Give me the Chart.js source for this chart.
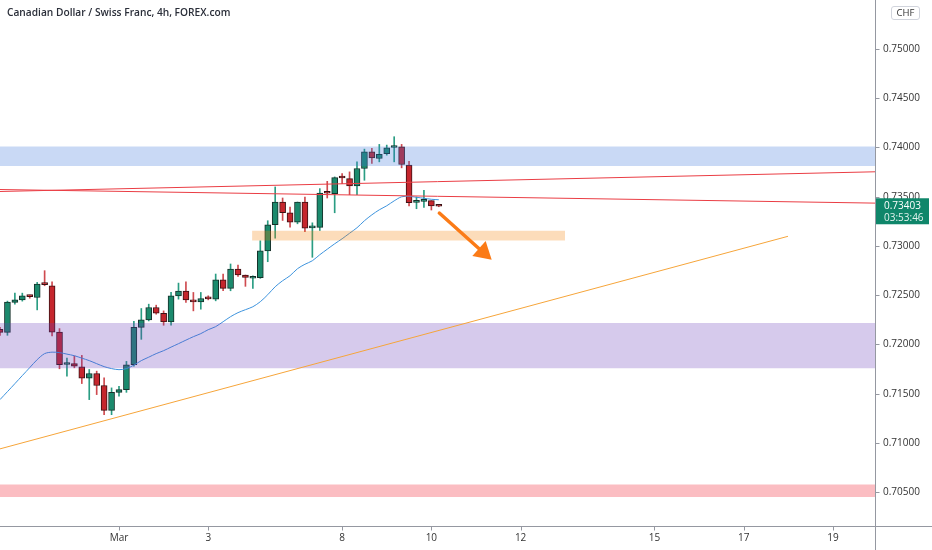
<!DOCTYPE html>
<html><head><meta charset="utf-8">
<script src="https://cdn.jsdelivr.net/npm/chart.js@4.4.1/dist/chart.umd.min.js"></script>
<style>
html,body{margin:0;padding:0;background:#fff;}
#wrap{position:relative;width:932px;height:550px;overflow:hidden;}
#title{position:absolute;left:7px;top:5px;font:600 10.2px 'Open Sans';color:#2a2e39;white-space:nowrap;}
#chf{position:absolute;left:891px;top:6px;width:27px;height:12px;border:1px solid #d1d4dc;border-radius:3px;font:9.5px 'Open Sans';color:#333;text-align:center;line-height:12px;}
</style></head><body>
<div id="wrap"><canvas id="c" width="932" height="550"></canvas>
<div id="title">Canadian Dollar / Swiss Franc, 4h, FOREX.com</div><div id="chf">CHF</div></div>
<script>
// candle index (4h bars, 0 = first bar of 1 March)
const candleIdx = [-16,-15,-14,-13,-12,-11,-10,-9,-8,-7,-6,-5,-4,-3,-2,-1,0,1,2,3,4,5,6,7,8,9,10,11,12,13,14,15,16,17,18,19,20,21,22,23,24,25,26,27,28,29,30,31,32,33,34,35,36,37,38,39,40,41,42,43];
const opens  = [0.72154,0.72123,0.72426,0.72453,0.72491,0.72477,0.72613,0.72596,0.72126,0.71797,0.71807,0.71774,0.71657,0.71705,0.71583,0.71331,0.71514,0.71542,0.71794,0.72174,0.72249,0.72375,0.72317,0.72228,0.72494,0.72542,0.72453,0.72432,0.72467,0.72460,0.72657,0.72569,0.72766,0.72705,0.72672,0.72677,0.72950,0.73215,0.73446,0.73337,0.73242,0.73446,0.73184,0.73189,0.73541,0.73531,0.73694,0.73684,0.73610,0.73786,0.73956,0.73888,0.73936,0.74000,0.74007,0.73820,0.73442,0.73453,0.73460,0.73406];
const highs  = [0.72174,0.72440,0.72521,0.72521,0.72501,0.72630,0.72749,0.72636,0.72161,0.71861,0.71882,0.71889,0.71746,0.71729,0.71661,0.71559,0.71576,0.71828,0.72236,0.72365,0.72409,0.72399,0.72341,0.72528,0.72623,0.72636,0.72528,0.72528,0.72494,0.72715,0.72715,0.72817,0.72807,0.72705,0.72698,0.73052,0.73256,0.73599,0.73487,0.73395,0.73446,0.73497,0.73235,0.73582,0.73656,0.73701,0.73735,0.73752,0.73854,0.73983,0.73990,0.74031,0.74024,0.74109,0.74031,0.73860,0.73497,0.73565,0.73460,0.73410];
const lows   = [0.72093,0.72093,0.72409,0.72440,0.72470,0.72351,0.72596,0.72086,0.71753,0.71678,0.71763,0.71603,0.71440,0.71491,0.71287,0.71287,0.71474,0.71514,0.71780,0.72052,0.72239,0.72307,0.72195,0.72195,0.72460,0.72426,0.72341,0.72358,0.72453,0.72443,0.72545,0.72545,0.72692,0.72590,0.72569,0.72671,0.72840,0.73079,0.73259,0.73191,0.73225,0.73146,0.72885,0.73157,0.73487,0.73337,0.73633,0.73521,0.73521,0.73667,0.73837,0.73854,0.73922,0.73854,0.73793,0.73406,0.73378,0.73391,0.73365,0.73398];
const closes = [0.72123,0.72429,0.72453,0.72494,0.72486,0.72613,0.72608,0.72126,0.71794,0.71802,0.71780,0.71657,0.71705,0.71583,0.71331,0.71514,0.71542,0.71794,0.72174,0.72249,0.72375,0.72317,0.72228,0.72494,0.72542,0.72453,0.72432,0.72467,0.72463,0.72657,0.72569,0.72766,0.72705,0.72681,0.72676,0.72950,0.73215,0.73446,0.73337,0.73242,0.73446,0.73181,0.73189,0.73538,0.73535,0.73694,0.73690,0.73610,0.73786,0.73956,0.73895,0.73929,0.73997,0.74005,0.73827,0.73439,0.73447,0.73458,0.73406,0.73403];
// moving average (blue)
const emaValues = [0.71440,0.71521,0.71602,0.71684,0.71765,0.71846,0.71907,0.71922,0.71917,0.71902,0.71886,0.71861,0.71836,0.71805,0.71775,0.71755,0.71744,0.71755,0.71790,0.71836,0.71871,0.71907,0.71937,0.71973,0.72008,0.72044,0.72079,0.72110,0.72150,0.72181,0.72231,0.72282,0.72323,0.72353,0.72383,0.72434,0.72505,0.72586,0.72647,0.72698,0.72769,0.72814,0.72850,0.72911,0.72967,0.73022,0.73073,0.73129,0.73185,0.73256,0.73316,0.73367,0.73408,0.73458,0.73499,0.73504,0.73494,0.73484,0.73474,0.73469];
// drawings
const viewRange = [-16, 101.65];
const blueZone = [0.74009, 0.73813];
const purpleZone = [0.72218, 0.71758];
const pinkZone = [0.70578, 0.70451];
const orangeZoneX = [17.9, 59.97];
const orangeZone = [0.73154, 0.73056];
const redLineUp = [0.73553, 0.73753];
const redLineDown = [0.73573, 0.73435];
const trendX = [-16, 89.95];
const trendY = [0.70940, 0.73098];
const arrowFrom = [43.07, 0.73334];
const arrowTo = [50.11, 0.72860];
// axes
const xTickIdx = [0, 12, 30, 42, 54, 72, 84, 96];
const xTickLabels = ['Mar', '3', '8', '10', '12', '15', '17', '19'];
const yTicks = [0.705, 0.71, 0.715, 0.72, 0.725, 0.73, 0.735, 0.74, 0.745, 0.75];
const yRange = [0.70157, 0.75497];
const lastPrice = 0.73403;
const countdown = '03:53:46';

const UP = '#1b8a6d', DOWN = '#c5262d';
const isUp = candleIdx.map((_, k) => closes[k] >= opens[k]);
const wickData = candleIdx.map((x, k) => ({x, y: [lows[k], highs[k]]}));
const bodyData = candleIdx.map((x, k) => ({x, y: [Math.min(opens[k], closes[k]), Math.max(opens[k], closes[k])]}));
const emaData = candleIdx.map((x, k) => ({x, y: emaValues[k]}));

function band(vals, xs, color, order) {
  return [
    {type: 'line', data: [{x: xs[0], y: vals[0]}, {x: xs[1], y: vals[0]}], borderWidth: 0, pointRadius: 0, fill: false, order},
    {type: 'line', data: [{x: xs[0], y: vals[1]}, {x: xs[1], y: vals[1]}], borderWidth: 0, pointRadius: 0, fill: '-1', backgroundColor: color, order}
  ];
}
function seg(xs, ys, color, order) {
  return {type: 'line', data: [{x: xs[0], y: ys[0]}, {x: xs[1], y: ys[1]}], borderColor: color, borderWidth: 1, pointRadius: 0, fill: false, order};
}

const tvFont = {family: "'Open Sans'", size: 10};
const AXIS = '#9598a1';

const extras = {
  id: 'extras',
  afterDatasetsDraw(chart) {
    const {ctx, scales: {x, y}} = chart;
    const x1 = x.getPixelForValue(arrowFrom[0]), y1 = y.getPixelForValue(arrowFrom[1]);
    const x2 = x.getPixelForValue(arrowTo[0]), y2 = y.getPixelForValue(arrowTo[1]);
    const a = Math.atan2(y2 - y1, x2 - x1), hl = 17, hw = 10;
    const bx = x2 - hl * Math.cos(a), by = y2 - hl * Math.sin(a);
    ctx.save();
    ctx.strokeStyle = '#fb7b17'; ctx.fillStyle = '#fb7b17';
    ctx.lineWidth = 3.5; ctx.lineCap = 'round';
    ctx.beginPath(); ctx.moveTo(x1, y1); ctx.lineTo(bx + 1, by + 1); ctx.stroke();
    ctx.beginPath(); ctx.moveTo(x2, y2);
    ctx.lineTo(bx + hw * Math.sin(a), by - hw * Math.cos(a));
    ctx.lineTo(bx - hw * Math.sin(a), by + hw * Math.cos(a));
    ctx.closePath(); ctx.fill();
    ctx.restore();
  },
  afterDraw(chart) {
    const {ctx, chartArea: ca, scales: {x, y}} = chart;
    const bot = Math.round(ca.bottom) + 0.5, rgt = Math.round(ca.right) + 0.5;
    ctx.save();
    ctx.strokeStyle = AXIS; ctx.lineWidth = 1;
    ctx.beginPath();
    ctx.moveTo(0, bot); ctx.lineTo(chart.width, bot);
    ctx.moveTo(rgt, 0); ctx.lineTo(rgt, chart.height);
    xTickIdx.forEach(v => { const px = Math.round(x.getPixelForValue(v)) + 0.5; ctx.moveTo(px, bot); ctx.lineTo(px, bot + 4); });
    yTicks.forEach(v => { const py = Math.round(y.getPixelForValue(v)) + 0.5; ctx.moveTo(rgt, py); ctx.lineTo(rgt + 4, py); });
    ctx.stroke();
    const py = y.getPixelForValue(lastPrice);
    const bx = Math.round(ca.right) + 1;
    ctx.fillStyle = '#0f866a';
    ctx.fillRect(bx, py - 8, 929 - bx, 26);
    ctx.fillStyle = '#ffffff';
    ctx.font = "10px 'Open Sans'";
    ctx.textBaseline = 'middle';
    ctx.fillText(lastPrice.toFixed(5), bx + 8, py);
    ctx.fillStyle = '#e2f2ee';
    ctx.fillText(countdown, bx + 8, py + 12);
    ctx.restore();
  }
};

new Chart(document.getElementById('c'), {
  type: 'bar',
  data: {
    datasets: [
      {type: 'bar', data: wickData, backgroundColor: isUp.map(u => u ? '#2a9d83' : '#cf4a4f'), barThickness: 1, grouped: false, order: 6},
      {type: 'bar', data: bodyData, backgroundColor: isUp.map(u => u ? UP : DOWN), borderColor: isUp.map(u => u ? '#16302a' : '#3a1215'), borderWidth: 1, borderSkipped: false, barThickness: 6, minBarLength: 2, grouped: false, order: 5},
      {type: 'line', data: emaData, borderColor: '#3d93dd', borderWidth: 1, pointRadius: 0, fill: false, tension: 0.3, order: 4},
      ...band(blueZone, viewRange, 'rgba(60,120,220,0.28)', 3),
      ...band(purpleZone, viewRange, 'rgba(103,58,183,0.27)', 3),
      ...band(pinkZone, viewRange, 'rgba(242,54,69,0.33)', 3),
      ...band(orangeZone, orangeZoneX, 'rgba(245,124,0,0.27)', 3),
      seg(viewRange, redLineUp, '#ea3d44', 1),
      seg(viewRange, redLineDown, '#ea3d44', 1),
      seg(trendX, trendY, '#f6a53a', 1)
    ]
  },
  options: {
    responsive: false,
    animation: false,
    layout: {padding: 0, autoPadding: false},
    plugins: {legend: {display: false}, tooltip: {enabled: false}, title: {display: false}},
    scales: {
      x: {
        type: 'linear', min: viewRange[0], max: viewRange[1], offset: false,
        grid: {offset: false, drawOnChartArea: false, drawTicks: true, tickLength: 4, color: 'rgba(0,0,0,0)', tickColor: 'rgba(0,0,0,0)'},
        border: {display: false},
        ticks: {autoSkip: false, maxRotation: 0, font: tvFont, color: '#333', padding: 2,
          callback: v => { const k = xTickIdx.indexOf(v); return k >= 0 ? xTickLabels[k] : ''; }},
        afterBuildTicks: s => { s.ticks = xTickIdx.map(v => ({value: v})); },
        afterFit: s => { s.height = 24; s.paddingLeft = 0; s.paddingRight = 0; }
      },
      y: {
        type: 'linear', position: 'right', min: yRange[0], max: yRange[1],
        grid: {offset: false, drawOnChartArea: false, drawTicks: true, tickLength: 4, color: 'rgba(0,0,0,0)', tickColor: 'rgba(0,0,0,0)'},
        border: {display: false},
        ticks: {font: tvFont, color: '#333', padding: 4, callback: v => Number(v).toFixed(5)},
        afterBuildTicks: s => { s.ticks = yTicks.map(v => ({value: v})); },
        afterFit: s => { s.width = 57; s.paddingTop = 0; s.paddingBottom = 0; }
      }
    }
  },
  plugins: [extras]
});
</script>
</body></html>
